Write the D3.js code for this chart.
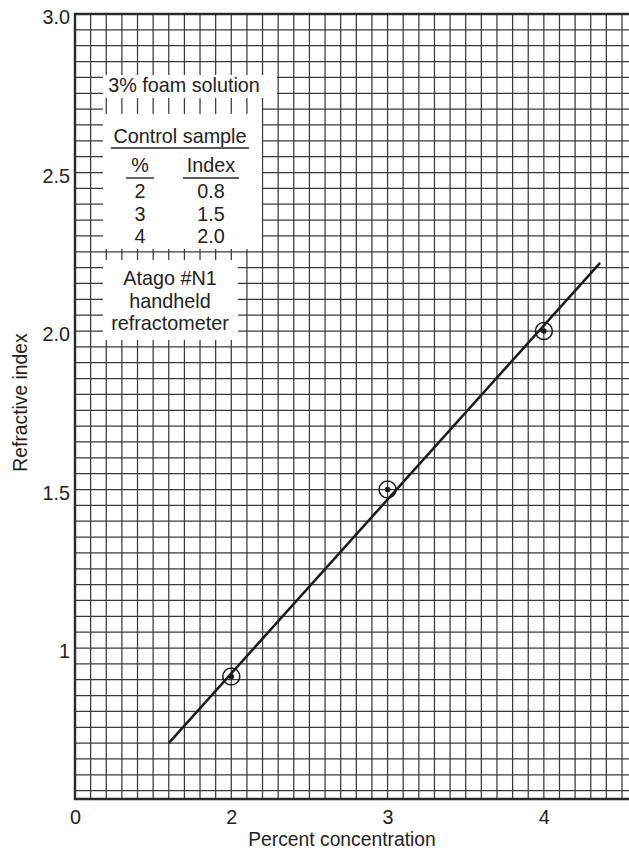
<!DOCTYPE html>
<html>
<head>
<meta charset="utf-8">
<script src="https://cdn.jsdelivr.net/npm/d3@7"></script>
<style>
  html, body { margin: 0; padding: 0; background: #fff; }
  svg { display: block; font-family: "Liberation Sans", Arial, Helvetica, sans-serif; }
</style>
</head>
<body>
<svg id="chart"></svg>
<script>
// measured points (percent concentration vs refractive index)
const concentrations = [2, 3, 4];
const measuredIndex = [0.91, 1.5, 2.0];

// fitted straight line, end points
const fitConcentration = [1.6, 4.36];
const fitIndex = [0.70, 2.215];

// axis ticks (x axis starts at 1 but is labelled "0")
const xTickValues = [1, 2, 3, 4];
const xTickLabels = ['0', '2', '3', '4'];
const yTickValues = [1, 1.5, 2.0, 2.5, 3.0];
const yTickLabels = ['1', '1.5', '2.0', '2.5', '3.0'];

// control sample table
const controlPercent = ['2', '3', '4'];
const controlIndex = ['0.8', '1.5', '2.0'];
const instrumentLines = ['Atago #N1', 'handheld', 'refractometer'];

const width = 629;
const height = 852;
const plotLeft = 75, plotRight = 622, plotTop = 14, plotBottom = 799;
const fontSize = 19.8;

const svg = d3.select('#chart').attr('width', width).attr('height', height);

const x = d3.scaleLinear().domain([1, 4.5]).range([plotLeft, plotRight]);
const y = d3.scaleLinear()
  .domain([3.0 - (plotBottom - plotTop) / 317, 3.0])
  .range([plotBottom, plotTop]);

const gridColor = '#3a3a3a';

// horizontal grid lines every 0.05
const hLines = d3.range(0.55, 3.0, 0.05).map(v => +v.toFixed(2));
svg.append('g')
  .selectAll('line')
  .data(hLines)
  .join('line')
  .attr('x1', plotLeft).attr('x2', width)
  .attr('y1', d => y(d)).attr('y2', d => y(d))
  .attr('stroke', gridColor)
  .attr('stroke-width', 1.25);

// white areas that hide the horizontal lines behind the notes
const hMasks = [[103, 72, 277, 98], [103, 98, 262, 248], [103, 253, 238, 341]];
svg.append('g')
  .selectAll('rect')
  .data(hMasks)
  .join('rect')
  .attr('x', d => d[0]).attr('y', d => d[1])
  .attr('width', d => d[2] - d[0]).attr('height', d => d[3] - d[1])
  .attr('fill', '#fff');

// vertical grid lines every 0.1
const vLines = d3.range(1.1, 4.51, 0.1).map(v => +v.toFixed(1));
svg.append('g')
  .selectAll('line')
  .data(vLines)
  .join('line')
  .attr('x1', d => x(d)).attr('x2', d => x(d))
  .attr('y1', plotTop).attr('y2', plotBottom)
  .attr('stroke', gridColor)
  .attr('stroke-width', 1.25);

// frame: left, top and bottom
svg.append('path')
  .attr('d', `M${width},${plotTop}H${plotLeft}V${plotBottom}H${width}`)
  .attr('fill', 'none')
  .attr('stroke', '#2a2a2a')
  .attr('stroke-width', 2.4);

// note boxes
const boxes = [[103, 75, 277, 98], [103, 114, 262, 249], [103, 260, 238, 340]];
svg.append('g')
  .selectAll('rect')
  .data(boxes)
  .join('rect')
  .attr('x', d => d[0]).attr('y', d => d[1])
  .attr('width', d => d[2] - d[0]).attr('height', d => d[3] - d[1])
  .attr('fill', '#fff');

const notes = svg.append('g')
  .attr('font-size', fontSize)
  .attr('fill', '#222')
  .attr('text-anchor', 'middle');

notes.append('text').attr('x', 184).attr('y', 92).text('3% foam solution');
notes.append('text').attr('x', 180).attr('y', 143).text('Control sample');
notes.append('text').attr('x', 140).attr('y', 172).text('%');
notes.append('text').attr('x', 211).attr('y', 172).text('Index');

[[111, 249, 148], [126, 154, 178], [183, 239, 178]].forEach(u => {
  notes.append('line')
    .attr('x1', u[0]).attr('x2', u[1])
    .attr('y1', u[2]).attr('y2', u[2])
    .attr('stroke', '#222').attr('stroke-width', 1.4);
});

controlPercent.forEach((p, i) => {
  notes.append('text').attr('x', 140).attr('y', 198 + i * 22.5).text(p);
  notes.append('text').attr('x', 211).attr('y', 198 + i * 22.5).text(controlIndex[i]);
});

instrumentLines.forEach((t, i) => {
  notes.append('text').attr('x', 170).attr('y', 285 + i * 22.5).text(t);
});

// fitted line
const line = d3.line().x(d => x(d[0])).y(d => y(d[1]));
svg.append('path')
  .datum(d3.zip(fitConcentration, fitIndex))
  .attr('d', line)
  .attr('fill', 'none')
  .attr('stroke', '#1a1a1a')
  .attr('stroke-width', 2.5);

// measured points: circled dots
const pts = svg.append('g')
  .selectAll('g')
  .data(d3.zip(concentrations, measuredIndex))
  .join('g')
  .attr('transform', d => `translate(${x(d[0])},${y(d[1])})`);
pts.append('circle').attr('r', 8.5).attr('fill', 'none').attr('stroke', '#1a1a1a').attr('stroke-width', 1.5);
pts.append('circle').attr('r', 2.8).attr('fill', '#1a1a1a');

// axes
const xAxis = svg.append('g')
  .attr('transform', `translate(0,${plotBottom})`)
  .call(d3.axisBottom(x).tickValues(xTickValues).tickFormat((d, i) => xTickLabels[i]).tickSize(0).tickPadding(11));
const yAxis = svg.append('g')
  .attr('transform', `translate(${plotLeft},0)`)
  .call(d3.axisLeft(y).tickValues(yTickValues).tickFormat((d, i) => yTickLabels[i]).tickSize(0).tickPadding(5));

[xAxis, yAxis].forEach(a => {
  a.select('.domain').remove();
  a.selectAll('text')
    .attr('font-size', fontSize)
    .attr('font-family', '"Liberation Sans", Arial, sans-serif')
    .attr('fill', '#222');
});
yAxis.selectAll('text').attr('dy', '0.5em');

svg.append('text')
  .attr('x', 342)
  .attr('y', 846)
  .attr('text-anchor', 'middle')
  .attr('font-size', 19.3)
  .attr('fill', '#222')
  .text('Percent concentration');

svg.append('text')
  .attr('transform', `translate(27,${(plotTop + plotBottom) / 2 - 4}) rotate(-90)`)
  .attr('text-anchor', 'middle')
  .attr('font-size', 19.3)
  .attr('fill', '#222')
  .text('Refractive index');
</script>
</body>
</html>
